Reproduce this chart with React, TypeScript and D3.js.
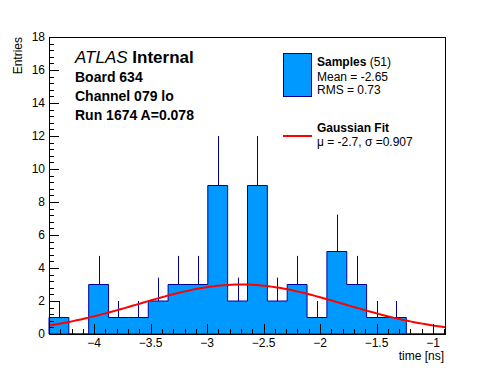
import * as d3 from 'd3'
import React from 'react'

// histogram counts per bin (20 equal bins over the axis range)
const binCounts = [1, 0, 3, 1, 1, 2, 3, 3, 9, 2, 9, 2, 3, 1, 5, 3, 1, 1, 0, 0];
const histRange = [-4.4, -0.885];
const xTickValues = [-4, -3.5, -3, -2.5, -2, -1.5, -1];
const yTickValues = [0, 2, 4, 6, 8, 10, 12, 14, 16, 18];

// gaussian fit parameters
const fitMean = -2.7;
const fitSigma = 0.907;
const fitConst = 3.0;

const infoLines = ['Board 634', 'Channel 079 lo', 'Run 1674 A=0.078'];

const W = 496;
const H = 372;
const margin = { left: 49, right: 446, top: 37, bottom: 334 };
const font = '"Liberation Sans", Arial, Helvetica, sans-serif';

const App: React.FC = () => {
    const x = d3.scaleLinear().domain(histRange).range([margin.left, margin.right]);
    const y = d3.scaleLinear().domain([0, 18]).range([margin.bottom, margin.top]);

    const binWidth = (histRange[1] - histRange[0]) / binCounts.length;
    const bins = binCounts.map((v, i) => ({
        x0: histRange[0] + i * binWidth,
        x1: histRange[0] + (i + 1) * binWidth,
        v,
    }));

    // step outline of histogram
    const pts: [number, number][] = [[x(histRange[0]), y(0)]];
    bins.forEach(b => {
        pts.push([x(b.x0), y(b.v)]);
        pts.push([x(b.x1), y(b.v)]);
    });
    pts.push([x(histRange[1]), y(0)]);
    const histPath = d3.line()(pts) + 'Z';

    const fitXs = d3.range(0, 101).map(i => histRange[0] + (i / 100) * (histRange[1] - histRange[0]));
    const fitLine = d3.line<number>()
        .x(d => x(d))
        .y(d => y(fitConst * Math.exp(-((d - fitMean) ** 2) / (2 * fitSigma * fitSigma))))(fitXs);

    const fmt = d3.format('');
    const xMinor = d3.range(-43, -8).map(v => v / 10).filter(v => v >= histRange[0] && v <= histRange[1]);
    const yMinor = d3.range(0, 46).map(v => v * 0.4).filter(v => v <= 18);

    return (
        <svg width={W} height={H} style={{ position: 'absolute', left: 0, top: 0, background: 'white' }} fontFamily={font}>
            <rect x={0} y={0} width={W} height={H} fill="white" />
            <path d={histPath} fill="#0099ff" stroke="#000099" strokeWidth={1} />
            {bins.filter(b => b.v > 0).map((b, i) => (
                <line key={i} x1={Math.round(x((b.x0 + b.x1) / 2)) + 0.5} x2={Math.round(x((b.x0 + b.x1) / 2)) + 0.5}
                    y1={y(b.v)} y2={y(b.v + Math.sqrt(b.v))} stroke="#000099" strokeWidth={1} />
            ))}
            <path d={fitLine || ''} fill="none" stroke="#ff0000" strokeWidth={2} />

            {/* frame */}
            <rect x={margin.left + 0.5} y={margin.top + 0.5} width={margin.right - margin.left - 1}
                height={margin.bottom - margin.top} fill="none" stroke="black" strokeWidth={1} />

            {/* x axis ticks */}
            {xMinor.map((v, i) => (
                <line key={'xm' + i} x1={Math.round(x(v)) + 0.5} x2={Math.round(x(v)) + 0.5}
                    y1={margin.bottom} y2={margin.bottom - 5} stroke="black" />
            ))}
            {xTickValues.map(v => (
                <g key={'xt' + v}>
                    <line x1={Math.round(x(v)) + 0.5} x2={Math.round(x(v)) + 0.5} y1={margin.bottom} y2={margin.bottom - 10} stroke="black" />
                    <text x={x(v)} y={347} textAnchor="middle" fontSize={12}>{fmt(v)}</text>
                </g>
            ))}
            <text x={444} y={360} textAnchor="end" fontSize={12}>time [ns]</text>

            {/* y axis ticks */}
            {yMinor.map((v, i) => (
                <line key={'ym' + i} x1={margin.left} x2={margin.left + 5}
                    y1={Math.round(y(v)) + 0.5} y2={Math.round(y(v)) + 0.5} stroke="black" />
            ))}
            {yTickValues.map(v => (
                <g key={'yt' + v}>
                    <line x1={margin.left} x2={margin.left + 10} y1={Math.round(y(v)) + 0.5} y2={Math.round(y(v)) + 0.5} stroke="black" />
                    <text x={45} y={y(v)} dy="0.35em" textAnchor="end" fontSize={12}>{fmt(v)}</text>
                </g>
            ))}
            <text transform={`translate(22,${margin.top}) rotate(-90)`} textAnchor="end" fontSize={12}>Entries</text>

            {/* labels */}
            <text x={75} y={63} fontSize={17}>
                <tspan fontStyle="italic">ATLAS</tspan>
                <tspan fontWeight="bold"> Internal</tspan>
            </text>
            {infoLines.map((t, i) => (
                <text key={t} x={75} y={82 + i * 19} fontSize={14} fontWeight="bold">{t}</text>
            ))}

            {/* legend */}
            <rect x={283.5} y={53.5} width={28} height={43} fill="#0099ff" stroke="#000099" />
            <text x={317} y={66} fontSize={12}>
                <tspan fontWeight="bold">Samples</tspan>
                <tspan> (51)</tspan>
            </text>
            <text x={317} y={81} fontSize={12}>Mean = -2.65</text>
            <text x={317} y={94} fontSize={12}>RMS = 0.73</text>

            <line x1={283} x2={312} y1={136} y2={136} stroke="#ff0000" strokeWidth={2} />
            <text x={317} y={132} fontSize={12} fontWeight="bold">Gaussian Fit</text>
            <text x={317} y={146} fontSize={12}>μ = -2.7, σ =0.907</text>
        </svg>
    );
};

export default App;
